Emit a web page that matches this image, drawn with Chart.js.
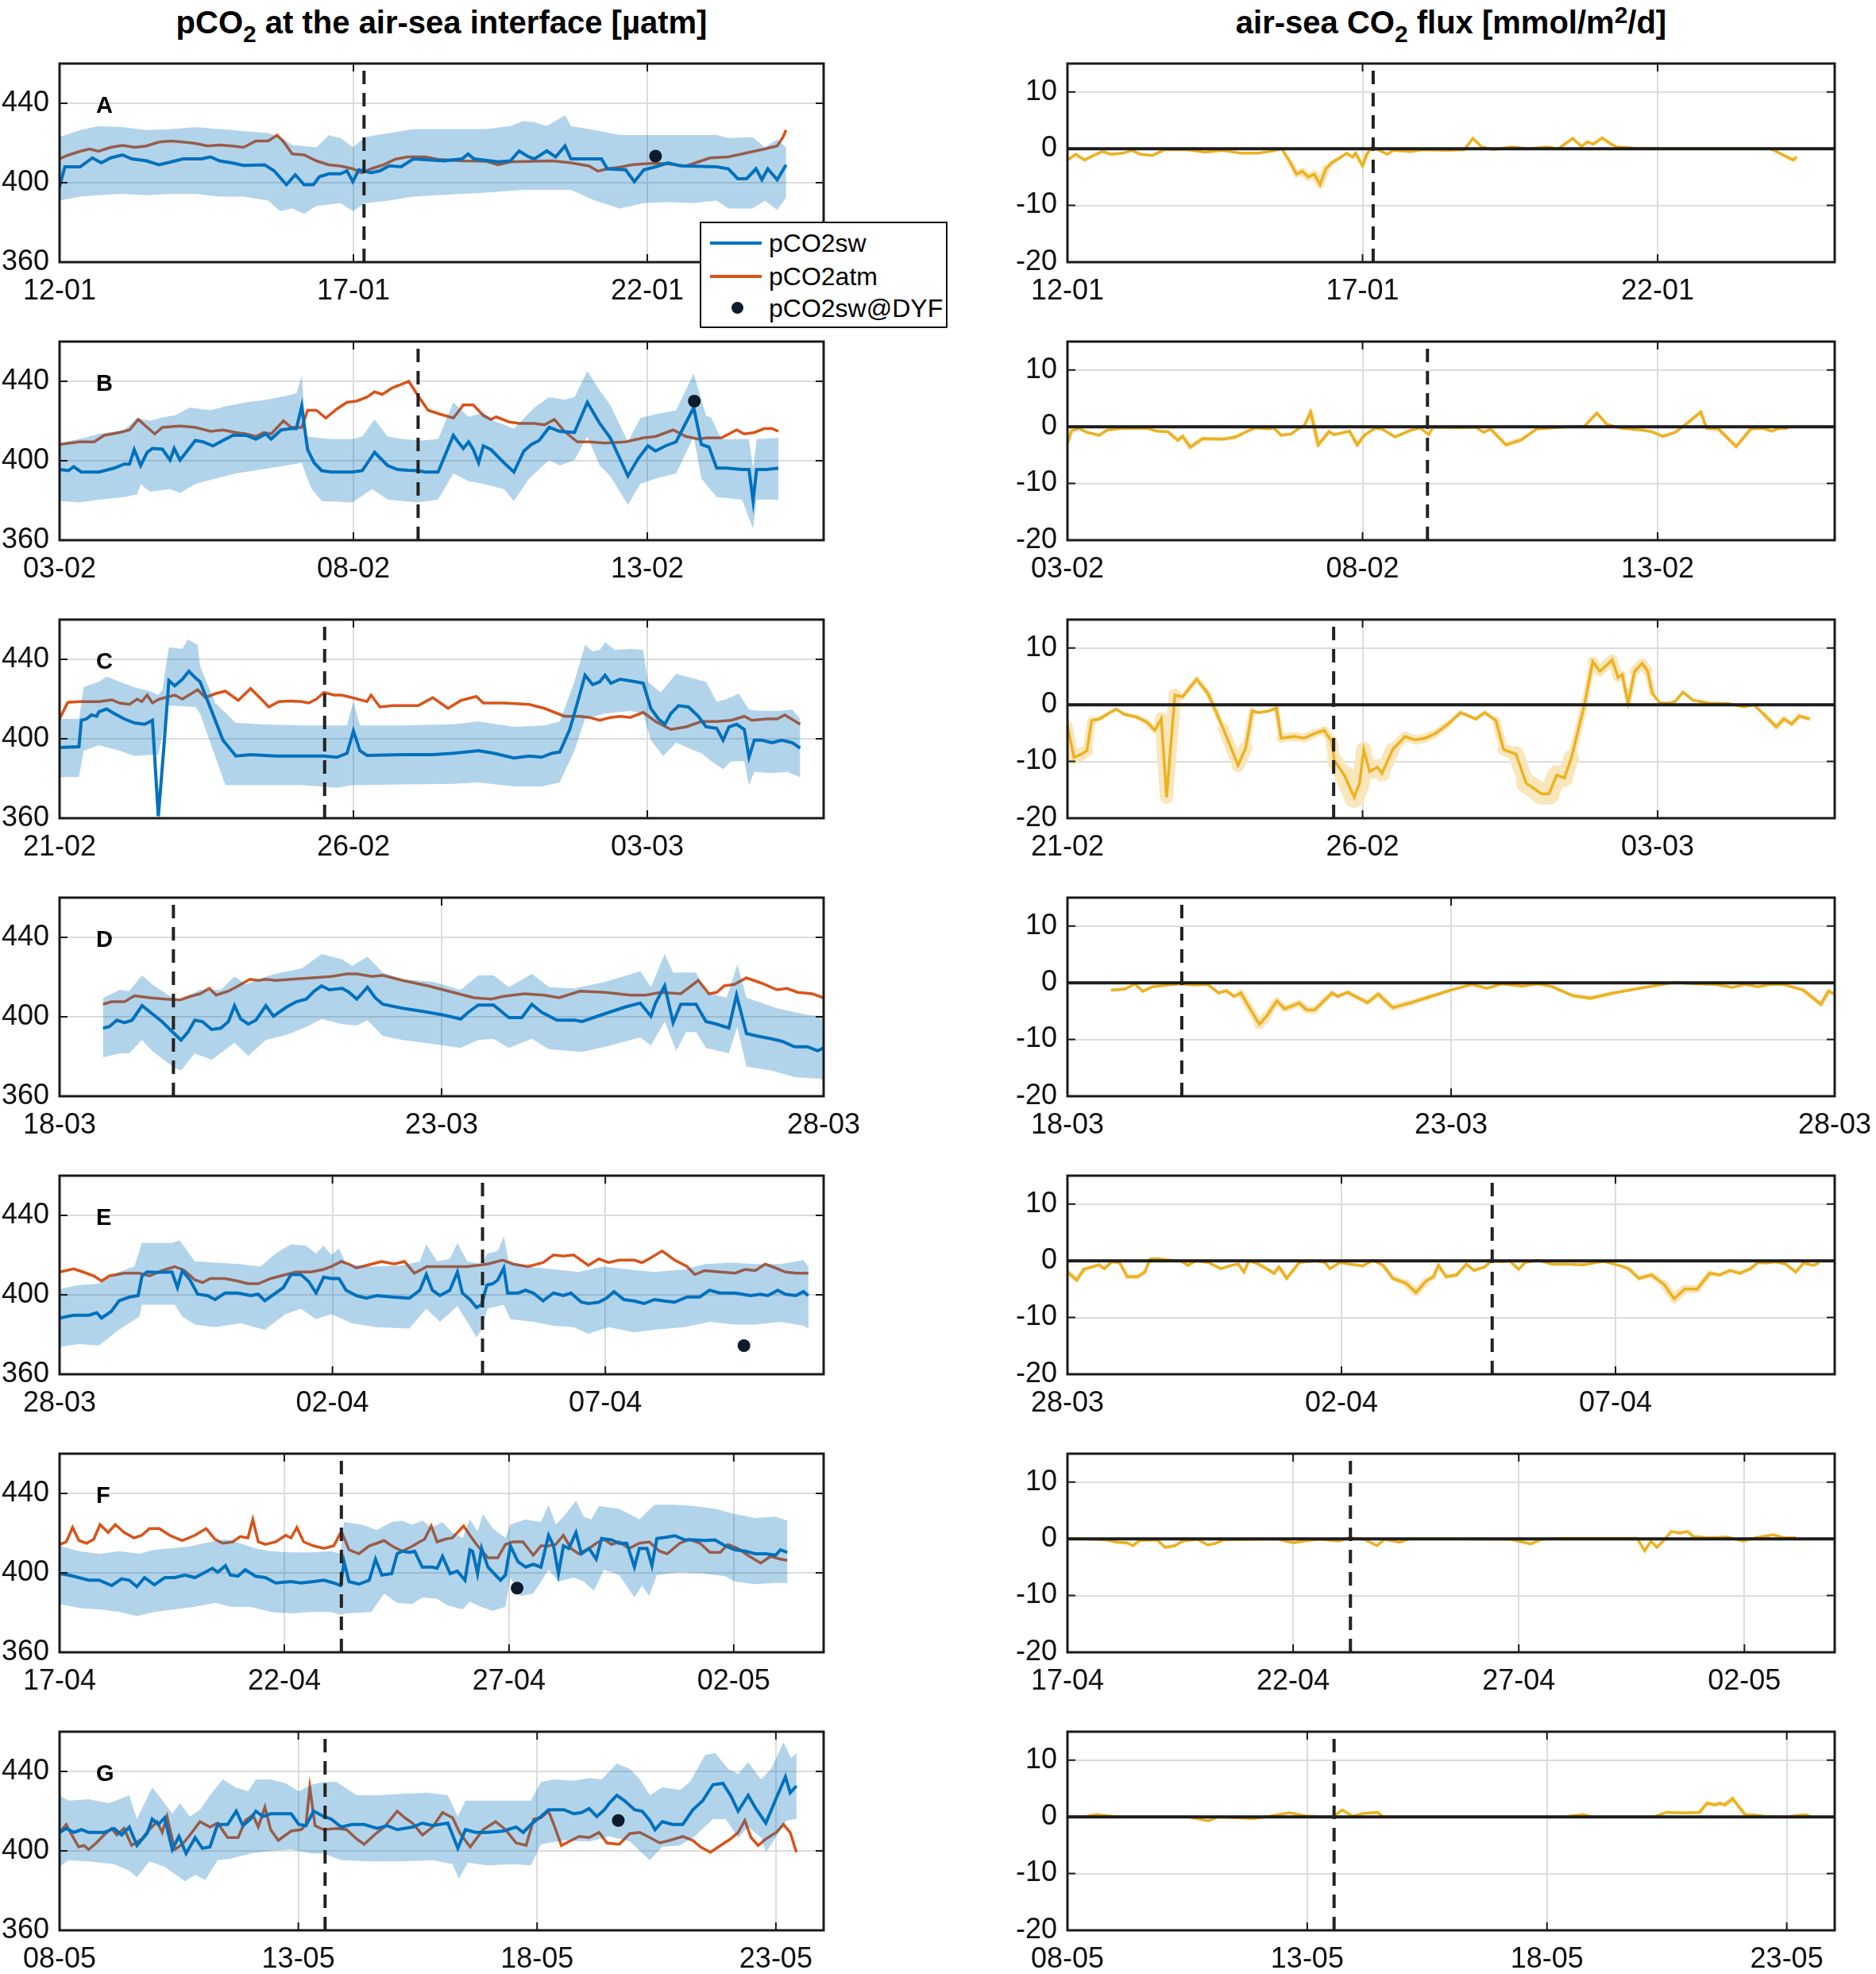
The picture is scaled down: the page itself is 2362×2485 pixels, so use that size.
<!DOCTYPE html>
<html>
<head>
<meta charset="utf-8">
<script src="https://cdn.jsdelivr.net/npm/chart.js@4.4.1/dist/chart.umd.min.js"></script>
<style>
  body { margin: 0; background: #fff; width: 2362px; height: 2485px; position: relative;
         font-family: "Liberation Sans", Arial, Helvetica, sans-serif; color: #000; }
  canvas { position: absolute; }
  .title { position: absolute; top: 6px; font-weight: bold; font-size: 40px; line-height: 44px;
           text-align: center; white-space: nowrap; }
  .title sub { font-size: 0.75em; vertical-align: -0.35em; line-height: 0; }
  .title sup { font-size: 0.75em; vertical-align: 0.45em; line-height: 0; }
  .letter { position: absolute; left: 121px; font-weight: bold; font-size: 29px; line-height: 30px; }
  #legend { position: absolute; left: 881px; top: 279px; width: 308px; height: 130px;
            border: 2px solid #111; background: #fff; z-index: 5; }
  #legend .row { position: absolute; left: 0; width: 100%; height: 40px; }
  #legend .ln { position: absolute; left: 11px; top: 18px; width: 65px; height: 4px; }
  #legend .dot { position: absolute; left: 38px; top: 12px; width: 15px; height: 15px; border-radius: 50%; background: #0d1b2a; }
  #legend .tx { position: absolute; left: 85px; top: 0; font-size: 32px; line-height: 40px; }
</style>
</head>
<body>

<div class="title" style="left:75px;width:962px;">pCO<sub>2</sub> at the air-sea interface [µatm]</div>
<div class="title" style="left:1344px;width:966px;">air-sea CO<sub>2</sub> flux [mmol/m<sup>2</sup>/d]</div>

<div id="legend">
  <div class="row" style="top:5px;"><span class="ln" style="background:#0072BD;"></span><span class="tx">pCO2sw</span></div>
  <div class="row" style="top:47px;"><span class="ln" style="background:#D95319;"></span><span class="tx">pCO2atm</span></div>
  <div class="row" style="top:87px;"><span class="dot"></span><span class="tx">pCO2sw@DYF</span></div>
</div>

<script>
// ---- data: [day since panel start, value] ----

// panel A
const swA = [[0,398],[0.09,408],[0.35,408],[0.56,412.5],[0.71,410],[0.87,412.5],[1.07,414],[1.23,412],[1.48,411],[1.69,409],[1.9,410.5],[2.1,412],[2.41,412],[2.57,413],[2.72,411],[2.93,410],[3.13,408.7],[3.49,409],[3.65,406],[3.86,399],[4.01,404],[4.16,399],[4.32,399],[4.42,403],[4.58,404.5],[4.78,404.5],[4.89,406],[4.99,400.5],[5.09,406.5],[5.3,405],[5.45,406],[5.61,408.5],[5.81,408],[6.02,412],[6.54,411],[6.85,412],[6.95,414.5],[7.05,412],[7.46,410.5],[7.67,411],[7.82,416],[7.98,413],[8.08,412],[8.29,416],[8.44,413],[8.6,418.5],[8.7,412],[9.22,412],[9.32,407],[9.63,406.5],[9.78,400.5],[9.94,406.5],[10.14,408],[10.35,410],[10.56,408.5],[11.18,408],[11.38,407],[11.54,402],[11.69,402],[11.85,407],[11.95,401.5],[12.05,407],[12.21,401.5],[12.36,409]];
const atmA = [[0,412],[0.14,413.8],[0.35,415.8],[0.51,417],[0.66,415.8],[0.87,417.8],[1.07,418.8],[1.28,417.8],[1.48,418.5],[1.69,420.5],[1.9,421],[2.1,420.5],[2.31,419.8],[2.52,418.5],[2.72,419],[2.93,418.5],[3.13,417.8],[3.34,421],[3.55,421],[3.7,423.9],[3.8,421],[3.96,414.5],[4.16,414],[4.37,411],[4.58,409],[4.78,408.4],[4.99,407],[5.14,405],[5.3,407],[5.51,409],[5.71,411.8],[5.92,413],[6.23,413],[6.43,411.8],[6.85,411],[7.26,410.8],[7.46,409],[7.67,410.5],[8.08,410.8],[8.39,411],[8.7,410],[9.01,408.4],[9.16,405.8],[9.32,407],[9.53,407.8],[9.73,409],[9.94,409.5],[10.14,409.8],[10.35,409.5],[10.66,408.4],[10.87,410.5],[11.07,412.5],[11.38,413],[11.69,415],[12,417],[12.21,418.5],[12.31,423],[12.36,426.5]];
const hiA = [[0,423],[0.35,426.5],[0.66,428.5],[1.07,428],[1.48,426.5],[1.9,427],[2.31,428],[2.72,427],[3.13,426],[3.55,425],[3.75,423],[3.96,419],[4.37,417.8],[4.58,423.9],[4.78,422.5],[4.99,417.8],[5.2,423],[5.61,425],[6.02,427],[7.26,427],[7.67,428.5],[7.88,431],[8.08,430.5],[8.29,428.5],[8.6,434],[8.7,428.5],[9.11,426.5],[9.53,424],[11.18,424],[11.38,422.5],[11.79,423],[12,417.8],[12.21,421.8],[12.36,417.8]];
const loA = [[0,391],[0.35,393],[0.66,393.7],[1.07,394.4],[1.48,393.7],[1.9,394.4],[2.31,394.4],[2.72,393],[3.13,393],[3.55,391],[3.75,385.7],[3.96,387],[4.16,384.3],[4.37,388.3],[4.78,389.7],[4.99,385.7],[5.2,389.7],[5.61,391],[6.02,393],[6.43,393.7],[6.85,394.4],[7.26,395],[7.88,396.4],[8.7,396.4],[9.11,391],[9.53,387],[9.94,389.7],[10.35,390.3],[10.76,389.7],[11.18,391],[11.38,387],[11.79,387],[12,391],[12.21,386.3],[12.36,392.4]];
const fluxA = [[0,-2],[0.14,-1],[0.29,-2],[0.44,-1.2],[0.59,-0.5],[0.74,-1],[0.94,-0.8],[1.09,-0.3],[1.24,-1],[1.44,-1.2],[1.64,-0.2],[2.03,-0.2],[2.33,-0.6],[2.63,-0.3],[2.93,-0.8],[3.23,-0.8],[3.48,-0.4],[3.63,0],[3.78,-2.5],[3.88,-4.5],[3.98,-4],[4.08,-5],[4.18,-4.5],[4.28,-6.3],[4.38,-3.5],[4.48,-2.5],[4.63,-1.5],[4.73,-0.8],[4.83,-1.5],[4.88,-0.8],[5,-3],[5.07,-1],[5.17,0.3],[5.42,-1],[5.52,-0.3],[5.82,-0.5],[6.02,-0.2],[6.42,-0.3],[6.72,-0.2],[6.87,1.8],[7.02,0.3],[7.22,-0.2],[7.52,0.3],[7.82,0],[8.12,0.3],[8.32,0],[8.56,1.8],[8.71,0.4],[8.81,1.2],[8.91,0.8],[9.06,1.9],[9.21,0.8],[9.31,0.3],[9.61,0.1],[10.01,0],[11.01,0],[11.9,0],[12.01,-0.5],[12.2,-1.5],[12.3,-2],[12.35,-1.5]];
const dyfA = [[10.14,413.4]];

// panel B
const swB = [[0,395.6],[0.15,395],[0.24,397],[0.37,394.3],[0.67,394.3],[0.93,396.3],[1.1,398.3],[1.19,398.3],[1.27,405.6],[1.38,397.6],[1.49,404.2],[1.58,406.2],[1.75,405.8],[1.88,400.3],[1.95,406.2],[2.05,400.3],[2.31,410.2],[2.44,409.5],[2.61,407.5],[2.78,410.2],[2.95,412.8],[3.17,412.8],[3.34,410.9],[3.51,413.5],[3.6,410.9],[3.77,415.5],[3.94,416.2],[4.03,416.2],[4.12,427.4],[4.22,405.6],[4.33,399],[4.46,395],[4.63,394.3],[4.98,394.3],[5.15,395],[5.36,404.2],[5.58,397.6],[5.75,395.6],[5.92,395.2],[6.1,395],[6.22,394.3],[6.44,394.3],[6.7,412.8],[6.78,409.5],[6.87,406.2],[6.96,409.5],[7.04,405.6],[7.13,399],[7.21,407.5],[7.34,405.6],[7.56,399],[7.73,394.3],[7.9,404.9],[8.03,408.2],[8.16,410.2],[8.33,416.8],[8.51,414.8],[8.76,414.2],[8.98,429.4],[9.19,418.8],[9.37,411.5],[9.67,392.3],[9.84,400.9],[10.01,407.5],[10.14,404.9],[10.31,407.5],[10.49,409.5],[10.79,426.8],[10.92,408.2],[11.05,406.9],[11.18,396.3],[11.35,396.3],[11.61,395.6],[11.73,395.6],[11.8,379.7],[11.86,395.6],[12.04,395.6],[12.23,396.3]];
const atmB = [[0,408.2],[0.33,409.5],[0.59,409.5],[0.76,412.8],[1.02,414.2],[1.19,415.5],[1.34,420.8],[1.49,416.8],[1.62,413.5],[1.75,416.8],[2.05,417.5],[2.31,416.8],[2.57,414.8],[2.78,415.5],[3,414.2],[3.17,413.5],[3.34,412.2],[3.47,414.2],[3.6,413.5],[3.81,420.1],[3.94,416.8],[4.12,416.8],[4.22,425.4],[4.37,425.4],[4.53,421.5],[4.72,426.1],[4.89,429.4],[5.06,430.1],[5.23,432],[5.36,434.7],[5.49,433.4],[5.66,436.7],[5.84,438.7],[5.94,440],[6.1,432.7],[6.27,425.4],[6.48,423.4],[6.7,421.5],[6.87,428.1],[7.04,428.1],[7.21,422.8],[7.34,420.8],[7.43,422.1],[7.65,419.5],[7.82,418.8],[8.07,418.8],[8.25,418.1],[8.42,420.8],[8.59,414.8],[8.81,409.5],[9.02,409.5],[9.28,408.9],[9.63,409.5],[9.93,411.5],[10.14,412.2],[10.44,415.5],[10.66,412.2],[10.87,410.9],[11,411.5],[11.26,411.5],[11.39,413.5],[11.52,415.5],[11.65,413.5],[11.82,414.2],[11.99,416.2],[12.12,416.2],[12.23,414.8]];
const hiB = [[0,408.9],[0.33,410.9],[0.67,413.5],[1.1,415.5],[1.32,421.5],[1.53,420.1],[1.79,422.1],[1.96,422.8],[2.22,426.8],[2.57,425.4],[2.82,427.4],[3.17,429.4],[3.51,430.7],[3.86,432.7],[4.03,434],[4.12,442.6],[4.2,412.2],[4.63,410.9],[4.98,410.9],[5.15,412.2],[5.36,420.8],[5.58,412.2],[5.84,410.9],[6.18,410.2],[6.44,410.9],[6.7,429.4],[6.96,422.1],[7.21,424.1],[7.39,420.1],[7.73,416.2],[8.08,426.8],[8.33,432],[8.59,430.7],[8.76,432],[8.98,445.2],[9.19,435.4],[9.37,428.1],[9.67,409.5],[9.88,421.5],[10.14,423.4],[10.49,425.4],[10.79,443.9],[11,422.8],[11.09,421.5],[11.26,410.9],[11.73,410.9],[11.8,396],[11.86,410.9],[12.23,411.5]];
const loB = [[0,379.7],[0.33,379],[0.67,380.4],[1.1,381.7],[1.32,383],[1.38,388.3],[1.53,384.4],[1.88,385.7],[2.05,383.7],[2.31,388.3],[2.65,391],[3,393.6],[3.43,395.6],[3.86,397.6],[4.12,399],[4.2,392.3],[4.29,385.7],[4.46,379.7],[4.98,379],[5.32,385.7],[5.58,380.4],[6.1,379],[6.44,380.4],[6.7,393.6],[6.96,389.7],[7.21,388.3],[7.56,385.7],[7.73,379.7],[7.99,391],[8.33,400.3],[8.51,397.6],[8.76,400.3],[8.98,412.2],[9.19,397.6],[9.37,392.3],[9.67,377.7],[9.88,388.3],[10.14,391],[10.49,393.6],[10.79,412.2],[10.92,391],[11.18,381.7],[11.61,380.4],[11.8,365.8],[11.86,380.4],[12.23,380.4]];
const fluxB = [[0,-2.9],[0.07,-0.7],[0.2,-0.3],[0.33,-1],[0.54,-1.5],[0.67,-0.6],[0.92,-0.3],[1.35,-0.3],[1.52,-0.8],[1.7,-0.9],[1.87,-2.4],[1.95,-1.7],[2.08,-3.6],[2.29,-2.1],[2.64,-2.2],[2.85,-1.8],[3.07,-0.7],[3.19,-0.2],[3.41,-0.4],[3.49,-0.2],[3.62,-1.5],[3.79,-1.3],[3.92,-0.3],[4.01,0.1],[4.12,2.6],[4.25,-3.2],[4.43,-0.9],[4.52,-1.4],[4.78,-0.8],[4.91,-3.2],[5.03,-1.5],[5.21,-0.3],[5.33,-0.4],[5.55,-1.8],[5.8,-0.7],[5.98,-0.2],[6.12,-1.4],[6.19,-0.1],[6.66,-0.2],[6.92,-0.1],[7.05,-1],[7.17,-0.4],[7.43,-3.2],[7.69,-2.3],[7.95,-0.4],[8.37,-0.1],[8.76,0.1],[8.97,2.4],[9.14,0.4],[9.4,-0.3],[9.74,-0.6],[9.91,-0.9],[10.09,-1.7],[10.3,-1],[10.51,0.7],[10.73,2.6],[10.83,-0.3],[11.03,-0.4],[11.33,-3.5],[11.58,-0.4],[11.8,-0.3],[11.93,-0.8],[12.05,-0.3],[12.2,-0.3]];
const dyfB = [[10.8,430]];

// panel C
const swC = [[0,395.6],[0.33,396],[0.37,409.3],[0.46,410],[0.54,412],[0.63,411.3],[0.67,413.6],[0.8,415],[0.93,412.7],[1.1,410],[1.27,408],[1.45,407.3],[1.58,409.3],[1.68,361],[1.77,394],[1.86,429.3],[1.96,426.7],[2.09,430],[2.2,434],[2.31,430.7],[2.39,428.7],[2.57,415.3],[2.78,399.3],[3,391.3],[3.25,392],[3.68,391.3],[4.12,391.3],[4.5,391.3],[4.72,390.7],[4.89,392.7],[5,404],[5.11,394],[5.23,391.6],[5.84,392],[6.35,392],[6.7,392.7],[7.13,394],[7.39,392.7],[7.73,390.3],[7.99,391.3],[8.2,390.7],[8.38,392.7],[8.51,393.3],[8.68,404.7],[8.81,418],[8.94,432],[9.07,427.3],[9.19,428.7],[9.28,432],[9.38,428],[9.54,430],[9.8,428.7],[9.93,428],[10.06,415.3],[10.19,410],[10.3,407.3],[10.4,412.7],[10.53,416.7],[10.7,416],[10.87,411.3],[11,406],[11.18,405.3],[11.29,399.3],[11.39,406],[11.52,407.3],[11.65,404.7],[11.73,390.7],[11.82,399.3],[11.95,399.3],[12.12,398],[12.29,399.3],[12.47,398],[12.6,395.3]];
const atmC = [[0,410],[0.14,418.3],[0.33,418.7],[0.67,418.7],[0.89,419.6],[1.02,418],[1.19,417.3],[1.32,420],[1.4,418.7],[1.49,422],[1.58,418],[1.7,420],[1.96,422],[2.09,420],[2.35,424.7],[2.48,420.7],[2.65,422.7],[2.82,424],[3.04,419.3],[3.25,425.3],[3.43,420],[3.56,416],[3.73,418.7],[3.94,419],[4.12,418.7],[4.24,418],[4.37,420],[4.5,423.3],[4.67,422],[4.8,422],[4.98,420.7],[5.23,418.7],[5.3,422],[5.45,416],[5.67,416.7],[6.1,416.7],[6.35,420.7],[6.61,415.3],[6.83,419.3],[7.09,421.3],[7.21,418],[7.56,418],[7.99,417.3],[8.25,415.3],[8.59,411.3],[8.85,411.3],[9.02,410.7],[9.19,409.3],[9.37,410.7],[9.54,411.3],[9.71,410.7],[9.93,413.3],[10.14,408.7],[10.4,404.7],[10.66,406],[10.92,408.7],[11.18,408.7],[11.43,409.3],[11.65,411.3],[11.78,409.3],[12.04,410],[12.21,410],[12.34,412],[12.6,407.3]];
const hiC = [[0,410],[0.33,410],[0.41,426],[0.67,428.7],[0.8,431.3],[1.02,428.7],[1.27,426],[1.53,424],[1.68,422],[1.75,424.7],[1.86,446],[2.09,445.3],[2.18,450],[2.35,447.3],[2.39,436.7],[2.65,418],[3,408],[3.43,407.3],[4.12,406.7],[4.89,406.7],[5,418.7],[5.11,406.7],[5.84,406.7],[6.7,407.3],[7.13,408.7],[7.73,406],[8.25,406.7],[8.51,408.7],[8.76,428.7],[8.94,447.3],[9.07,444],[9.19,444.7],[9.28,448.7],[9.45,444.7],[9.71,445.3],[9.93,444.7],[10.01,428.7],[10.23,423.3],[10.49,432.7],[10.74,430.7],[11,428.7],[11.18,418.7],[11.35,420],[11.56,422.7],[11.73,414.7],[11.95,414],[12.21,414],[12.47,414.7],[12.6,410]];
const loC = [[0,380.7],[0.33,380.7],[0.41,394],[0.67,396.7],[1.02,394],[1.27,391.3],[1.58,392],[1.68,392],[1.86,416.7],[2.31,416],[2.39,412.7],[2.82,376.7],[3.25,376.7],[4.12,376.7],[4.72,375.3],[4.98,376.7],[5.15,376.7],[5.84,377],[6.7,377.3],[7.13,378],[7.73,376],[8.2,376],[8.51,378],[8.76,394],[8.94,410],[9.28,412.7],[9.71,414],[9.93,412.7],[10.06,399.3],[10.27,391.3],[10.49,398],[10.7,395.3],[10.92,392.7],[11.09,388.7],[11.29,384.7],[11.43,388.7],[11.65,388.7],[11.73,376.7],[11.82,383.3],[12.12,382.7],[12.38,383.3],[12.6,380.7]];
const fluxC = [[0,-3.7],[0.11,-9.3],[0.24,-8.7],[0.33,-8.1],[0.41,-2.8],[0.54,-2.5],[0.67,-1.7],[0.82,-0.8],[0.97,-1.7],[1.18,-2.2],[1.35,-3.1],[1.48,-4.5],[1.59,-2.5],[1.68,-16.3],[1.82,1.7],[1.95,1.4],[2.19,4.5],[2.38,2],[2.64,-4.2],[2.89,-10.7],[3.02,-7.6],[3.13,-1.1],[3.24,-1.4],[3.41,-1.1],[3.54,-0.6],[3.62,-5.9],[3.84,-5.6],[4.01,-5.9],[4.18,-5.1],[4.35,-4.5],[4.48,-6.5],[4.52,-9.8],[4.69,-12.4],[4.86,-16.3],[4.95,-13.8],[5.02,-7.9],[5.12,-11.8],[5.25,-11],[5.33,-12.1],[5.51,-7.9],[5.72,-5.6],[5.89,-6.2],[6.06,-5.9],[6.23,-5.1],[6.45,-3.4],[6.66,-1.4],[6.92,-2.5],[7.07,-1.4],[7.26,-2.8],[7.39,-7.9],[7.6,-8.7],[7.77,-13.8],[8.03,-15.7],[8.16,-15.7],[8.29,-12.4],[8.42,-12.9],[8.54,-9.3],[8.76,0],[8.9,7.6],[9.02,5.9],[9.14,7],[9.23,7.9],[9.33,4.8],[9.4,5.3],[9.5,0.3],[9.61,5.9],[9.74,7.3],[9.83,5.9],[9.91,2],[10.04,0.3],[10.21,0.3],[10.3,0.6],[10.43,2.2],[10.6,0.8],[10.86,0.3],[11.2,0.2],[11.46,-0.4],[11.63,0],[11.8,-1.7],[12.01,-3.9],[12.14,-2.5],[12.27,-3.4],[12.4,-2],[12.57,-2.5]];
const dyfC = [];

// panel D
const swD = [[0.57,394.3],[0.65,395],[0.75,398.3],[0.85,397],[0.95,398.3],[1.08,405.6],[1.21,401.6],[1.34,397.6],[1.48,392.3],[1.59,388.3],[1.68,392.3],[1.77,398.3],[1.87,397.6],[1.99,393.6],[2.11,394.3],[2.21,397.6],[2.29,405.6],[2.37,398.9],[2.47,396.3],[2.57,398.3],[2.7,405.6],[2.8,400.3],[2.97,404.9],[3.1,407.6],[3.23,408.9],[3.33,412.9],[3.43,415.6],[3.53,413.6],[3.7,414.3],[3.79,412.3],[3.89,408.9],[4.03,414.9],[4.13,409.6],[4.23,406.3],[4.49,404.3],[4.82,402.3],[5.02,400.9],[5.25,398.9],[5.35,402.3],[5.48,405.9],[5.68,405.9],[5.88,399.6],[6.05,399.6],[6.18,406.3],[6.31,402.3],[6.51,398.3],[6.74,398.3],[6.84,397.6],[7.14,401.6],[7.4,404.9],[7.6,406.9],[7.74,400.3],[7.8,406.9],[7.92,415.6],[8.03,397],[8.13,406.3],[8.33,406.3],[8.46,397.6],[8.6,396.3],[8.76,394.3],[8.86,410.9],[8.99,391.6],[9.13,390.3],[9.32,388.9],[9.46,387.6],[9.62,384.9],[9.79,384.9],[9.92,382.9],[10,384.3]];
const atmD = [[0.57,406.3],[0.68,407.6],[0.85,407.6],[0.98,410.6],[1.18,409.6],[1.38,408.9],[1.58,408.5],[1.71,410.3],[1.84,411.6],[1.96,414.3],[2.05,410.9],[2.21,412.9],[2.34,415.6],[2.49,418.9],[2.6,418.3],[2.7,418.9],[2.83,418.3],[3.03,418.9],[3.3,419.6],[3.56,420.3],[3.76,421.6],[3.89,421.6],[4.09,420.3],[4.23,420.9],[4.49,418.3],[4.82,415.6],[5.15,412.3],[5.42,409.6],[5.65,408.9],[5.81,410.3],[6.08,411.6],[6.34,410.9],[6.54,409.6],[6.81,412.9],[7.14,412.3],[7.47,410.9],[7.67,410.9],[7.87,412.3],[8.13,411.6],[8.36,418.3],[8.5,411.6],[8.6,412.3],[8.7,415.6],[8.83,416.3],[8.99,419.6],[9.19,416.9],[9.39,413.6],[9.52,414.3],[9.66,412.3],[9.85,411.6],[10,409.6]];
const hiD = [[0.57,409.6],[0.79,413.6],[0.91,412.9],[1.08,420.9],[1.21,416.3],[1.48,409.6],[1.61,408.9],[1.84,413.6],[2.11,413.6],[2.29,420.3],[2.44,416.3],[2.7,420.3],[2.9,422.3],[3.17,424.3],[3.43,431.6],[3.7,428.9],[3.83,425.6],[4.03,430.3],[4.23,422.3],[4.49,418.9],[4.89,417.6],[5.25,413.6],[5.48,420.9],[5.68,420.9],[5.88,414.9],[6.18,421.6],[6.41,414.9],[6.74,414.3],[7.14,417.6],[7.6,422.9],[7.74,414.9],[7.92,431.6],[8.03,422.3],[8.33,422.3],[8.46,412.3],[8.73,409.6],[8.87,426.3],[8.99,409.6],[9.39,404.3],[9.79,400.9],[10,400.3]];
const loD = [[0.57,379.6],[0.79,381.6],[0.91,381.6],[1.08,388.3],[1.21,382.9],[1.48,374.9],[1.59,372.9],[1.77,381.6],[1.99,378.3],[2.29,386.9],[2.47,380.3],[2.7,388.3],[2.97,390.9],[3.23,394.9],[3.43,398.9],[3.7,396.3],[3.89,395.6],[4.03,398.3],[4.23,390.3],[4.49,388.3],[4.89,386.3],[5.25,384.3],[5.48,388.3],[5.68,388.9],[5.88,384.3],[6.18,388.9],[6.41,383.6],[6.84,382.3],[7.14,384.9],[7.6,389.6],[7.74,385.6],[7.92,397.6],[8.07,382.9],[8.2,392.3],[8.33,392.3],[8.46,384.3],[8.76,381.6],[8.87,394.9],[8.99,374.9],[9.32,372.9],[9.62,369.6],[9.92,368.9],[10,368.3]];
const fluxD = [[0.57,-1.3],[0.75,-1.1],[0.88,-0.2],[0.98,-1.5],[1.11,-0.7],[1.31,-0.4],[1.47,-0.2],[1.64,-0.4],[1.83,-0.3],[1.97,-1.8],[2.07,-1.4],[2.17,-2.4],[2.26,-1.8],[2.5,-7.3],[2.59,-6],[2.73,-3.2],[2.83,-4.6],[3.02,-3.6],[3.12,-4.8],[3.22,-4.8],[3.45,-1.8],[3.52,-2.4],[3.65,-1.7],[3.91,-3.5],[4.05,-2],[4.24,-4.4],[4.48,-3.5],[4.74,-2.4],[5,-1.3],[5.27,-0.3],[5.47,-1],[5.66,-0.2],[5.93,-0.6],[6.13,-0.2],[6.32,-0.7],[6.59,-2.3],[6.82,-2.7],[7.12,-1.8],[7.45,-1],[7.71,-0.4],[7.91,0.1],[8.17,-0.2],[8.44,-0.3],[8.67,-0.8],[8.83,-0.3],[9,-0.7],[9.16,-0.3],[9.33,-0.3],[9.59,-1.3],[9.82,-3.8],[9.92,-1.5],[10,-2]];
const dyfD = [];

// panel E
const swE = [[0,388.3],[0.12,389],[0.26,389.7],[0.54,389.7],[0.68,391],[0.77,388.3],[0.95,391.7],[1.09,397],[1.28,398.9],[1.44,399.6],[1.51,409.5],[1.6,411.5],[1.79,411.3],[2.06,411.5],[2.16,403.6],[2.25,412.2],[2.39,407.5],[2.53,400.3],[2.71,399.6],[2.85,397.6],[3.03,400.9],[3.27,400.9],[3.5,399.6],[3.64,400.3],[3.76,397],[3.96,400.9],[4.1,403.6],[4.24,410.2],[4.42,410.2],[4.56,406.9],[4.7,400.9],[4.84,408.9],[4.98,408.2],[5.12,408.2],[5.25,402.3],[5.44,399.6],[5.62,398.3],[5.81,399.6],[6.09,398.9],[6.41,398.3],[6.6,402.3],[6.72,410.2],[6.83,402.3],[6.97,399.6],[7.15,402.3],[7.29,411.5],[7.38,400.9],[7.52,397.6],[7.64,393.6],[7.73,394.9],[7.83,404.9],[7.94,405.6],[8.03,407.5],[8.14,413.5],[8.21,400.9],[8.4,400.9],[8.54,402.3],[8.68,400.9],[8.86,397],[9.05,400.9],[9.23,399.6],[9.37,400.9],[9.56,396.3],[9.69,395.6],[9.88,396.3],[10.02,398.3],[10.16,401.6],[10.34,397.6],[10.53,396.9],[10.71,395.6],[10.9,397.6],[11.08,396.9],[11.27,396.3],[11.5,398.9],[11.73,398.9],[11.91,402.3],[12.1,400.9],[12.38,400.9],[12.66,399.6],[12.84,400.3],[12.98,399.6],[13.16,402.3],[13.3,400.3],[13.49,399.6],[13.63,401.6],[13.72,399.6]];
const atmE = [[0,411.5],[0.26,413.1],[0.49,410.9],[0.63,409.5],[0.77,406.9],[0.91,409.5],[1.18,410.9],[1.46,410.9],[1.65,409.5],[1.88,412.2],[2.11,414.2],[2.29,412.2],[2.48,407.5],[2.62,406.2],[2.76,408.2],[3.03,408.2],[3.27,406.9],[3.45,405.6],[3.64,405.6],[3.87,408.2],[4.05,409.5],[4.33,411.5],[4.61,411.5],[4.84,412.8],[4.98,414.2],[5.16,416.8],[5.3,415.5],[5.44,413.5],[5.72,415.5],[5.9,416.8],[6.13,415.5],[6.32,416.8],[6.5,410.9],[6.73,414.2],[7.1,414.2],[7.47,414.2],[7.84,415.5],[8.12,417.5],[8.31,415.5],[8.58,414.2],[8.86,416.2],[9.05,420.1],[9.23,419.5],[9.42,420.1],[9.69,414.8],[9.88,418.1],[10.06,416.2],[10.25,417.5],[10.53,417.5],[10.67,416.2],[10.8,418.1],[11.04,422.1],[11.27,417.5],[11.5,414.2],[11.64,410.2],[11.82,412.2],[12.1,411.5],[12.38,410.9],[12.56,412.8],[12.75,412.2],[12.93,415.5],[13.12,413.5],[13.3,411.5],[13.49,410.9],[13.72,410.9]];
const hiE = [[0,402.9],[0.35,404.9],[0.72,405.6],[1.09,411.5],[1.37,414.2],[1.51,426.1],[2.06,426.1],[2.2,427.4],[2.34,422.1],[2.48,416.8],[2.85,416.2],[3.31,415.5],[3.68,414.2],[3.96,420.8],[4.24,425.4],[4.51,424.8],[4.7,420.8],[4.84,424.8],[4.98,420.1],[5.12,423.4],[5.25,415.5],[5.72,414.2],[6.27,414.8],[6.6,416.8],[6.72,425.4],[6.92,416.8],[7.15,418.1],[7.29,426.1],[7.47,416.8],[7.73,415.5],[7.84,420.8],[8.03,422.1],[8.14,429.4],[8.23,416.8],[8.58,414.2],[9.05,412.8],[9.51,411.5],[9.97,414.2],[10.43,412.8],[10.9,411.5],[11.45,412.8],[11.82,415.5],[12.29,416.2],[12.75,415.5],[13.21,415.5],[13.63,417.5],[13.72,414.2]];
const loE = [[0,373.8],[0.35,375.2],[0.72,374.5],[1.09,382.4],[1.46,389],[1.51,395],[2.11,395],[2.25,389],[2.48,385],[2.85,383.7],[3.31,385.7],[3.76,382.4],[4.14,390.3],[4.42,393],[4.7,387.7],[4.98,390.3],[5.35,385.7],[5.81,383.7],[6.41,383],[6.72,393],[6.97,386.4],[7.29,394.3],[7.47,386.4],[7.64,378.5],[7.73,382.4],[7.84,393],[8.14,395],[8.26,387.7],[8.68,386.4],[9.05,384.4],[9.42,383.7],[9.69,380.4],[10.06,383.7],[10.53,381.1],[10.9,382.4],[11.45,383.7],[11.91,386.4],[12.38,385],[12.75,385],[13.21,386.4],[13.63,384.4],[13.72,383]];
const fluxE = [[0,-2],[0.17,-3.4],[0.3,-1.5],[0.44,-1.1],[0.58,-0.7],[0.67,-1.4],[0.81,-0.2],[0.95,-0.3],[1.09,-2.8],[1.28,-2.8],[1.41,-2],[1.51,0.3],[1.65,0.4],[1.78,0.2],[2.06,0],[2.2,-0.8],[2.34,0],[2.57,-0.3],[2.8,-1.4],[2.99,-0.8],[3.12,-0.6],[3.22,-2],[3.31,0],[3.49,-0.6],[3.77,-2.2],[3.86,-1.1],[4,-3.1],[4.23,-0.3],[4.51,0],[4.7,-0.3],[4.79,-1.4],[4.97,-0.3],[5.16,-0.6],[5.39,-0.9],[5.57,0.1],[5.76,-0.8],[5.94,-3.1],[6.17,-3.9],[6.36,-5.6],[6.54,-3.6],[6.68,-2.8],[6.77,-0.8],[6.91,-2.8],[7.1,-2.5],[7.28,-0.6],[7.42,-1.7],[7.61,-1.1],[7.74,0],[7.93,-0.2],[8.07,0],[8.23,-1.5],[8.35,-0.3],[8.58,0.1],[8.85,-0.6],[9.13,-0.6],[9.41,-0.7],[9.78,-0.1],[10.06,-0.8],[10.24,-1.4],[10.43,-3.1],[10.66,-2.5],[10.89,-4.2],[11.07,-6.7],[11.26,-5],[11.49,-5],[11.72,-2.2],[11.9,-2.5],[12.09,-1.7],[12.27,-2.2],[12.46,-1.4],[12.6,-0.3],[12.74,-0.4],[12.92,-0.2],[13.11,-0.6],[13.29,-2],[13.43,-0.4],[13.61,-0.8],[13.71,-0.4]];
const dyfE = [[12.54,374.4]];

// panel F
const swF = [[0,399.6],[0.2,398.9],[0.43,397.6],[0.65,396.3],[0.88,396.3],[1.16,393.6],[1.38,397],[1.55,396.3],[1.72,393],[1.89,397.6],[2.11,394],[2.34,397.6],[2.56,397.6],[2.79,398.9],[3.01,397.6],[3.18,399.6],[3.4,402.3],[3.52,400.3],[3.69,403.6],[3.8,398.9],[3.97,398.3],[4.13,401.6],[4.36,398.3],[4.58,397.6],[4.81,394.9],[5.15,395.6],[5.37,394.9],[5.65,395.6],[5.88,396.3],[6.1,394.9],[6.25,393.6],[6.33,405.6],[6.44,395.6],[6.66,394.3],[6.89,396.3],[7.03,406.9],[7.17,398.9],[7.39,399.6],[7.51,409.6],[7.62,410.9],[7.79,410.3],[7.9,410.9],[8.07,402.9],[8.29,402.9],[8.4,402.3],[8.52,408.3],[8.69,399.6],[8.85,400.9],[9.02,396.3],[9.13,411.6],[9.19,410.9],[9.3,399.6],[9.39,412.3],[9.53,402.9],[9.7,398.9],[9.81,396.3],[9.92,398.9],[10.03,413.6],[10.2,405.6],[10.37,402.9],[10.54,404.3],[10.71,402.9],[10.88,418.9],[10.99,413.6],[11.1,399.6],[11.21,413.6],[11.33,412.3],[11.49,420.3],[11.61,409.6],[11.78,412.3],[11.94,406.9],[12.06,417.3],[12.28,416.6],[12.45,414.9],[12.62,414.9],[12.79,402.9],[12.9,412.3],[13.07,412.3],[13.18,403.6],[13.29,417.3],[13.52,418],[13.69,418.7],[13.91,416.6],[14.13,416.6],[14.36,416.3],[14.58,416.6],[14.81,413.6],[15.03,411.6],[15.26,410.9],[15.48,409.6],[15.71,409.6],[15.93,408.9],[16.04,411.6],[16.19,410.3]];
const atmF = [[0,414.3],[0.15,415.6],[0.29,422.9],[0.43,416.3],[0.6,414.9],[0.76,416.9],[0.9,424.3],[1.08,420.3],[1.24,424.3],[1.44,420.3],[1.66,417.6],[1.83,418.9],[2,422.3],[2.22,422.3],[2.45,418.9],[2.73,416.3],[3.01,418.9],[3.26,422.3],[3.46,416.9],[3.63,414.9],[3.85,415.6],[4.02,418.3],[4.19,417.6],[4.3,426.9],[4.42,415.6],[4.58,414.3],[4.81,415.6],[5.03,418.9],[5.15,417.6],[5.28,422.9],[5.43,415.6],[5.65,413.6],[5.88,412.3],[6.1,413.6],[6.27,420.9],[6.44,411.6],[6.66,409.6],[6.89,413.6],[7.06,414.9],[7.22,416.3],[7.39,413.6],[7.62,410.9],[7.84,413.3],[8.01,415.6],[8.12,416.9],[8.27,423.6],[8.4,415.6],[8.57,416.9],[8.74,417.6],[8.99,423.6],[9.13,418.9],[9.3,413.6],[9.53,407.6],[9.75,407.6],[9.92,414.3],[10.09,415.6],[10.31,415.6],[10.54,408.9],[10.71,413.6],[10.88,413.6],[11.04,414.3],[11.21,418.9],[11.38,412.3],[11.55,409.6],[11.78,412.3],[11.94,414.9],[12.11,416.9],[12.28,414.3],[12.45,415.6],[12.67,412.3],[12.9,414.9],[13.12,415.6],[13.35,410.9],[13.52,409.6],[13.8,414.9],[14.02,416.9],[14.25,414.9],[14.47,410.3],[14.7,410.3],[14.87,414.3],[15.09,412.3],[15.31,408.9],[15.6,404.9],[15.82,408.3],[16.04,406.9],[16.19,406.3]];
const hiF = [[0,413.6],[0.43,410.9],[0.88,409.6],[1.33,410.9],[1.78,409.6],[2.11,411.6],[2.45,412.3],[2.9,413.3],[3.35,415.6],[3.69,416.9],[4.02,414.9],[4.36,412.3],[4.7,410.9],[5.15,410.3],[5.6,410.3],[6.04,410.9],[6.25,409.6],[6.33,425.6],[6.72,424.3],[7.06,421.6],[7.39,425.6],[7.62,426.3],[7.84,424.3],[8.07,426.3],[8.29,422.9],[8.52,425.6],[8.74,420.3],[8.97,417.6],[9.13,426.9],[9.3,420.9],[9.42,429.6],[9.64,422.3],[9.92,417.6],[10.03,424.3],[10.37,426.9],[10.71,425.6],[10.88,434.3],[11.04,424.3],[11.21,428.3],[11.49,436.3],[11.66,428.3],[11.83,426.9],[12,433.6],[12.45,432.3],[12.79,428.3],[12.9,426.9],[13.07,430.7],[13.24,434.3],[13.69,434.3],[14.13,433.6],[14.58,432.3],[15.03,429.6],[15.48,427.6],[15.93,428.3],[16.19,426.3]];
const loF = [[0,384.3],[0.43,382.3],[0.88,381.6],[1.33,380.3],[1.72,378.3],[2.11,380.3],[2.56,381.6],[3.01,382.9],[3.46,384.9],[3.8,382.9],[4.25,382.9],[4.7,380.3],[5.15,379.6],[5.6,380.3],[6.04,380.3],[6.25,378.9],[6.38,379.6],[6.94,380.3],[7.22,389.6],[7.51,384.9],[7.84,384.3],[8.07,387.6],[8.4,386.9],[8.63,383.6],[8.97,381.6],[9.13,385.6],[9.36,382.9],[9.64,380.9],[9.92,382.9],[10.03,397.6],[10.26,388.3],[10.54,389.6],[10.88,401.6],[11.1,395.6],[11.44,397.6],[11.66,395.6],[11.89,391],[12.11,401.6],[12.45,398.9],[12.79,387.6],[12.96,393.6],[13.12,388.3],[13.29,398.9],[13.8,400.3],[14.36,399.6],[14.81,398.3],[15.03,395.6],[15.48,394.3],[15.93,394.9],[16.19,394.9]];
const fluxF = [[0,0],[0.43,0],[0.87,-0.2],[1.1,-0.6],[1.32,-0.7],[1.45,-1.2],[1.6,-0.3],[1.99,-0.2],[2.16,-1.5],[2.38,-1.2],[2.55,-0.4],[2.89,-0.1],[3.11,-1.1],[3.28,-0.8],[3.45,-0.2],[4.23,-0.1],[4.68,-0.1],[5.01,-0.7],[5.23,-0.4],[5.57,-0.1],[6.02,-0.4],[6.24,0.2],[6.58,-0.1],[6.86,-1.2],[7.02,-0.1],[7.36,-0.6],[7.58,0],[8.7,0],[9.82,-0.1],[9.99,-0.4],[10.27,-0.9],[10.49,-0.1],[10.94,0.1],[12.06,0.1],[12.62,0.1],[12.79,-2.1],[12.93,-0.4],[13.06,-1.5],[13.23,-0.1],[13.38,1.3],[13.57,1],[13.74,1.3],[13.87,0.4],[14.18,0.2],[14.63,0.3],[14.97,-0.4],[15.25,0.2],[15.41,0.4],[15.64,0.7],[15.86,0.2],[16.14,0.2]];
const dyfF = [[10.18,392.3]];

// panel G
const swG = [[0,409.3],[0.14,411.3],[0.3,409.3],[0.46,410.7],[0.61,409.3],[0.93,409.3],[1.14,411.3],[1.3,408],[1.46,412],[1.62,402.7],[1.83,408.7],[1.94,416],[2.07,413.3],[2.2,416.7],[2.36,400.7],[2.5,407.3],[2.65,398.7],[2.84,406.7],[2.99,401.3],[3.15,402],[3.31,413.3],[3.52,413.3],[3.7,420],[3.84,412.7],[4,416],[4.11,420],[4.26,417.3],[4.42,418.7],[4.85,418.7],[5.01,413.3],[5.16,412.7],[5.32,420],[5.53,417.3],[5.69,416],[5.9,412],[6.12,413.3],[6.38,413.3],[6.65,411.3],[6.86,412.7],[7.07,410.7],[7.39,412],[7.6,414],[7.81,412.7],[8.13,414],[8.34,401.3],[8.5,410.7],[8.71,409.3],[8.97,409.3],[9.29,410],[9.56,412],[9.71,409.3],[9.87,413.3],[10.08,417.3],[10.24,420.7],[10.56,420.7],[10.77,418.7],[10.93,419.3],[11.09,421.3],[11.25,417.3],[11.41,420.7],[11.51,424],[11.67,428],[11.83,425.3],[12.04,420.7],[12.2,420],[12.36,415.3],[12.47,410.7],[12.62,414.7],[12.84,413.3],[13.05,413.3],[13.26,420.7],[13.47,425.3],[13.68,433.3],[13.89,434],[14.05,428],[14.21,420],[14.42,428],[14.58,421.3],[14.79,414],[15.01,426.7],[15.2,437.3],[15.3,429.3],[15.43,432.7]];
const atmG = [[0,409.3],[0.14,413.3],[0.24,408.7],[0.4,402],[0.51,402.7],[0.61,400.7],[0.77,404],[0.93,408],[1.09,411.3],[1.2,408],[1.35,411.3],[1.51,402.7],[1.72,406],[1.88,410.7],[2.04,414.7],[2.15,409.3],[2.25,417.3],[2.41,400.7],[2.57,403.3],[2.73,408],[2.94,414.7],[3.15,412],[3.31,414],[3.52,406.7],[3.74,406.7],[3.89,415.3],[4.05,418],[4.16,412],[4.3,422],[4.42,410.7],[4.58,405.3],[4.85,410],[5.06,410.7],[5.16,413.3],[5.24,432],[5.35,412.7],[5.53,410.7],[5.8,411.3],[6.01,410.7],[6.22,406],[6.38,403.3],[6.59,408],[6.8,412],[7.07,420],[7.23,416.7],[7.39,414],[7.6,408],[7.81,412],[8.02,419.3],[8.23,416.7],[8.39,408.7],[8.6,402],[8.87,410.7],[9.13,414.7],[9.34,410.7],[9.56,404],[9.77,402.7],[9.93,416],[10.08,416.7],[10.24,420],[10.35,413.3],[10.51,402.7],[10.67,404.7],[10.88,407.3],[11.09,406.7],[11.3,409.3],[11.46,404],[11.72,403.3],[11.94,408.7],[12.15,409.3],[12.36,406.7],[12.57,404],[12.78,405.3],[13.05,407.3],[13.26,405.3],[13.42,402],[13.63,399.3],[13.84,402.7],[14.05,406],[14.21,409.3],[14.35,415.3],[14.48,406.7],[14.63,402.7],[14.79,406],[15.01,409.3],[15.16,413.3],[15.3,409.3],[15.43,399.3]];
const hiG = [[0,428],[0.19,425.3],[0.61,426],[1.04,424],[1.46,428],[1.62,416],[1.94,432],[2.2,424],[2.36,418.7],[2.52,424],[2.73,417.3],[2.94,420.7],[3.15,428],[3.42,436],[3.68,432],[3.95,430],[4.11,436],[4.42,436],[4.74,434],[5.01,430],[5.27,433.3],[5.53,434.7],[5.8,434.7],[6.22,428],[6.65,428],[7.17,428.7],[7.7,429.3],[8.13,428],[8.34,417.3],[8.5,425.3],[8.97,425.3],[9.5,425.3],[9.87,425.3],[10.08,434.7],[10.35,436],[10.77,435.3],[11.09,436.7],[11.35,436],[11.67,444],[11.94,441.3],[12.15,436],[12.36,428],[12.62,432],[12.99,430.7],[13.2,434.7],[13.52,448.3],[13.73,449.3],[14,441.3],[14.21,438.7],[14.42,444.7],[14.69,436],[14.9,441.3],[15.16,454.7],[15.32,446.7],[15.43,449.3]];
const loG = [[0,392],[0.19,395.3],[0.61,394.7],[1.14,393.3],[1.46,390],[1.62,386.7],[1.88,394.7],[2.2,392],[2.63,384.7],[2.84,388],[3.05,385.3],[3.31,395.3],[3.58,396],[4,398.7],[4.42,400],[4.85,400.7],[5.27,398.7],[5.53,398.7],[5.9,395.3],[6.54,394.7],[7.17,394.7],[7.81,395.3],[8.23,393.3],[8.36,386],[8.55,394],[8.97,392.7],[9.5,393.3],[9.87,392.7],[10.08,403.3],[10.56,405.3],[11.09,404.7],[11.51,407.3],[11.94,404.7],[12.36,395.3],[12.62,402],[12.99,402.7],[13.3,407.3],[13.68,416],[13.95,416],[14.21,406.7],[14.42,412],[14.69,406.7],[14.79,399.3],[15.01,407.3],[15.22,415.3],[15.43,416]];
const fluxG = [[0,0],[0.4,0.1],[0.61,0.4],[1.04,0],[1.88,0],[2.51,0],[2.94,-0.7],[3.15,0],[3.89,-0.3],[4.2,0.1],[4.63,0.7],[4.94,0.2],[5.36,0],[5.55,0.1],[5.73,1.2],[5.95,0.1],[6.16,0.6],[6.47,0.8],[6.58,0],[7.16,0],[8.22,0],[9.27,0],[10.33,0],[10.75,0.4],[10.96,0],[11.38,0],[12.23,0],[12.49,0.8],[12.86,0.7],[13.18,0.8],[13.34,2.4],[13.5,2.1],[13.6,2.4],[13.71,2.1],[13.87,3.2],[14.13,0.4],[14.34,0.3],[14.55,0.1],[14.97,0],[15.4,0.4],[15.5,0]];
const dyfG = [[11.7,415.3]];

// axes, tick labels, event markers
const ticksA = ['12-01', '17-01', '22-01'];
const ticksB = ['03-02', '08-02', '13-02'];
const ticksC = ['21-02', '26-02', '03-03'];
const ticksD = ['18-03', '23-03', '28-03'];
const ticksE = ['28-03', '02-04', '07-04'];
const ticksF = ['17-04', '22-04', '27-04', '02-05'];
const ticksG = ['08-05', '13-05', '18-05', '23-05'];
const spanDays = [13, 13, 13, 10, 14, 17, 16];
const dashDays = [5.18, 6.1, 4.51, 1.49, 7.75, 6.27, 5.56];
const letters = ['A', 'B', 'C', 'D', 'E', 'F', 'G'];
const pco2Ticks = [360, 400, 440];
const fluxTicks = [-20, -10, 0, 10];

// ---- build ----
const sw = [swA, swB, swC, swD, swE, swF, swG];
const atm = [atmA, atmB, atmC, atmD, atmE, atmF, atmG];
const hi = [hiA, hiB, hiC, hiD, hiE, hiF, hiG];
const lo = [loA, loB, loC, loD, loE, loF, loG];
const flux = [fluxA, fluxB, fluxC, fluxD, fluxE, fluxF, fluxG];
const dyf = [dyfA, dyfB, dyfC, dyfD, dyfE, dyfF, dyfG];
const xTicks = [ticksA, ticksB, ticksC, ticksD, ticksE, ticksF, ticksG];

const FONT = '"Liberation Sans", Arial, Helvetica, sans-serif';
const xy = arr => arr.map(p => ({x: p[0], y: p[1]}));

// box + inward tick marks like the original axes
const boxPlugin = {
    id: 'box',
    afterDraw(chart) {
        const {ctx, chartArea: a, scales} = chart;
        ctx.save();
        ctx.strokeStyle = '#1a1a1a';
        ctx.lineWidth = 2;
        scales.y.ticks.forEach(t => {
            const y = scales.y.getPixelForValue(t.value);
            ctx.beginPath();
            ctx.moveTo(a.left, y); ctx.lineTo(a.left + 10, y);
            ctx.moveTo(a.right, y); ctx.lineTo(a.right - 10, y);
            ctx.stroke();
        });
        scales.x.ticks.forEach(t => {
            const x = scales.x.getPixelForValue(t.value);
            ctx.beginPath();
            ctx.moveTo(x, a.bottom); ctx.lineTo(x, a.bottom - 10);
            ctx.moveTo(x, a.top); ctx.lineTo(x, a.top + 10);
            ctx.stroke();
        });
        ctx.lineWidth = 3;
        ctx.strokeRect(a.left, a.top, a.right - a.left, a.bottom - a.top);
        ctx.restore();
    }
};

function makeChart(left, top, width, datasets, span, labels, ymin, ymax, yticks) {
    const cv = document.createElement('canvas');
    cv.width = width;
    cv.height = 322;
    cv.style.left = left + 'px';
    cv.style.top = top + 'px';
    cv.style.width = width + 'px';
    cv.style.height = '322px';
    document.body.appendChild(cv);

    const tickFont = {family: FONT, size: 36};
    new Chart(cv.getContext('2d'), {
        type: 'line',
        data: {datasets: datasets},
        options: {
            responsive: false,
            animation: false,
            devicePixelRatio: 1,
            events: [],
            layout: {padding: {top: 10, right: 70, left: 0, bottom: 0}},
            plugins: {legend: {display: false}, tooltip: {enabled: false}},
            elements: {line: {tension: 0, fill: false}, point: {radius: 0}},
            scales: {
                x: {
                    type: 'linear', min: 0, max: span,
                    afterBuildTicks: s => { s.ticks = labels.map((_, k) => ({value: 5 * k})); },
                    afterFit: s => { s.height = 62; },
                    ticks: {
                        callback: (v, i) => labels[i],
                        font: tickFont, color: '#111', padding: 15,
                        maxRotation: 0, autoSkip: false
                    },
                    grid: {color: '#dcdcdc', lineWidth: 2, drawTicks: false},
                    border: {display: false}
                },
                y: {
                    min: ymin, max: ymax,
                    afterBuildTicks: s => { s.ticks = yticks.map(v => ({value: v})); },
                    afterFit: s => { s.width = 75; s.paddingTop = 0; s.paddingBottom = 0; },
                    ticks: {font: tickFont, color: '#111', padding: 13},
                    grid: {color: '#dcdcdc', lineWidth: 2, drawTicks: false},
                    border: {display: false}
                }
            }
        },
        plugins: [boxPlugin]
    });
}

for (let i = 0; i < 7; i++) {
    const plotTop = 80 + 350 * i;
    const span = spanDays[i];
    const d = dashDays[i];

    // left: pCO2
    const band = xy(hi[i]).concat(xy(lo[i]).reverse());
    makeChart(0, plotTop - 10, 1107, [
        {data: xy(dyf[i]), showLine: false, pointRadius: 8, pointBackgroundColor: '#0d1b2a',
         pointBorderWidth: 0, order: 0},
        {data: [{x: d, y: 360}, {x: d, y: 460}], borderColor: '#222', borderWidth: 4,
         borderDash: [17, 11], order: 0},
        {data: band, fill: 'shape', backgroundColor: 'rgba(0,114,189,0.3)', borderColor: 'rgba(0,0,0,0)',
         borderWidth: 0, order: 1, clip: 0},
        {data: xy(sw[i]), borderColor: '#0072BD', borderWidth: 4, order: 2},
        {data: xy(atm[i]), borderColor: '#D95319', borderWidth: 3.5, order: 3}
    ], span, xTicks[i], 360, 460, pco2Ticks);

    // right: flux
    makeChart(1269, plotTop - 10, 1111, [
        {data: [{x: d, y: -20}, {x: d, y: 15}], borderColor: '#222', borderWidth: 4,
         borderDash: [17, 11], order: 0},
        {data: [{x: 0, y: 0}, {x: span, y: 0}], borderColor: '#1c1c1c', borderWidth: 4, order: 1},
        {data: xy(flux[i]), borderColor: '#EDB120', borderWidth: 3.5, order: 2},
        {data: xy(flux[i]), borderColor: '#f9e6bb', borderWidth: 2, order: 3, clip: 0,
         borderCapStyle: 'round', borderJoinStyle: 'round',
         segment: {borderWidth: c => 2 + 0.8 * (Math.abs(c.p0.parsed.y) + Math.abs(c.p1.parsed.y))}}
    ], span, xTicks[i], -20, 15, fluxTicks);

    const lt = document.createElement('div');
    lt.className = 'letter';
    lt.style.top = (plotTop + 37) + 'px';
    lt.textContent = letters[i];
    document.body.appendChild(lt);
}
</script>
</body>
</html>
